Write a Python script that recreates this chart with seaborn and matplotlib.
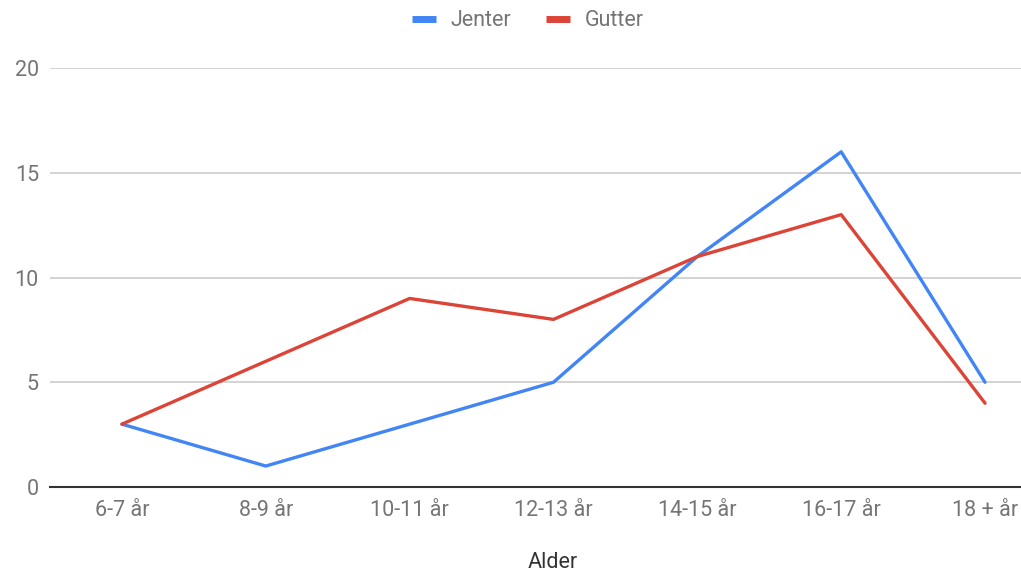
import matplotlib
matplotlib.use("Agg")
import matplotlib.pyplot as plt
import seaborn as sns
import pandas as pd
from matplotlib.lines import Line2D

categories = ["6-7 år", "8-9 år", "10-11 år", "12-13 år", "14-15 år", "16-17 år", "18 + år"]
jenter = [3, 1, 3, 5, 11, 16, 5]
gutter = [3, 6, 9, 8, 11, 13, 4]
yticks = [0, 5, 10, 15, 20]

sns.set_theme(style="white")
plt.rcParams['font.family'] = ['Roboto', 'DejaVu Sans']

df = pd.DataFrame({
    "x": list(range(len(categories))) * 2,
    "verdi": jenter + gutter,
    "serie": ["Jenter"] * len(jenter) + ["Gutter"] * len(gutter),
})

fig = plt.figure(figsize=(10.21, 5.74), dpi=100)
ax = fig.add_axes([50/1021, 1-487/574, 971/1021, (487-68)/574])
palette = {"Jenter": "#4285F4", "Gutter": "#DB4437"}
sns.lineplot(data=df, x="x", y="verdi", hue="serie", palette=palette, ax=ax,
             linewidth=2.4, legend=False)

ax.set_xlim(-0.5, 6.25)
ax.set_ylim(0, 20)
ax.set_yticks(yticks)
ax.set_xticks(range(len(categories)))
ax.set_xticklabels(categories)
ax.grid(axis="y", color="#cccccc", linewidth=1.2)
for s in ["top", "right", "left"]:
    ax.spines[s].set_visible(False)
ax.spines["bottom"].set_color("#333333")
ax.spines["bottom"].set_linewidth(1.5)
ax.tick_params(axis="both", length=0, colors="#757575", labelsize=15.5)
ax.tick_params(axis="y", pad=8)
ax.tick_params(axis="x", pad=9)
ax.set_xlabel("Alder", fontsize=15.5, color="#333333")
ax.xaxis.set_label_coords((553-50)/971, (487-563)/419)
ax.xaxis.label.set_va("center")
ax.set_ylabel("")

handles = [Line2D([], [], color=palette["Jenter"], linewidth=5, solid_capstyle="butt"),
           Line2D([], [], color=palette["Gutter"], linewidth=5, solid_capstyle="butt")]
fig.legend(handles, ["Jenter", "Gutter"], loc="center", bbox_to_anchor=(528/1021, 1-21/574),
           ncol=2, frameon=False, fontsize=15.5, handlelength=1.1, columnspacing=1.6,
           handletextpad=0.7, labelcolor="#757575")

fig.savefig("out.png", dpi=100)
